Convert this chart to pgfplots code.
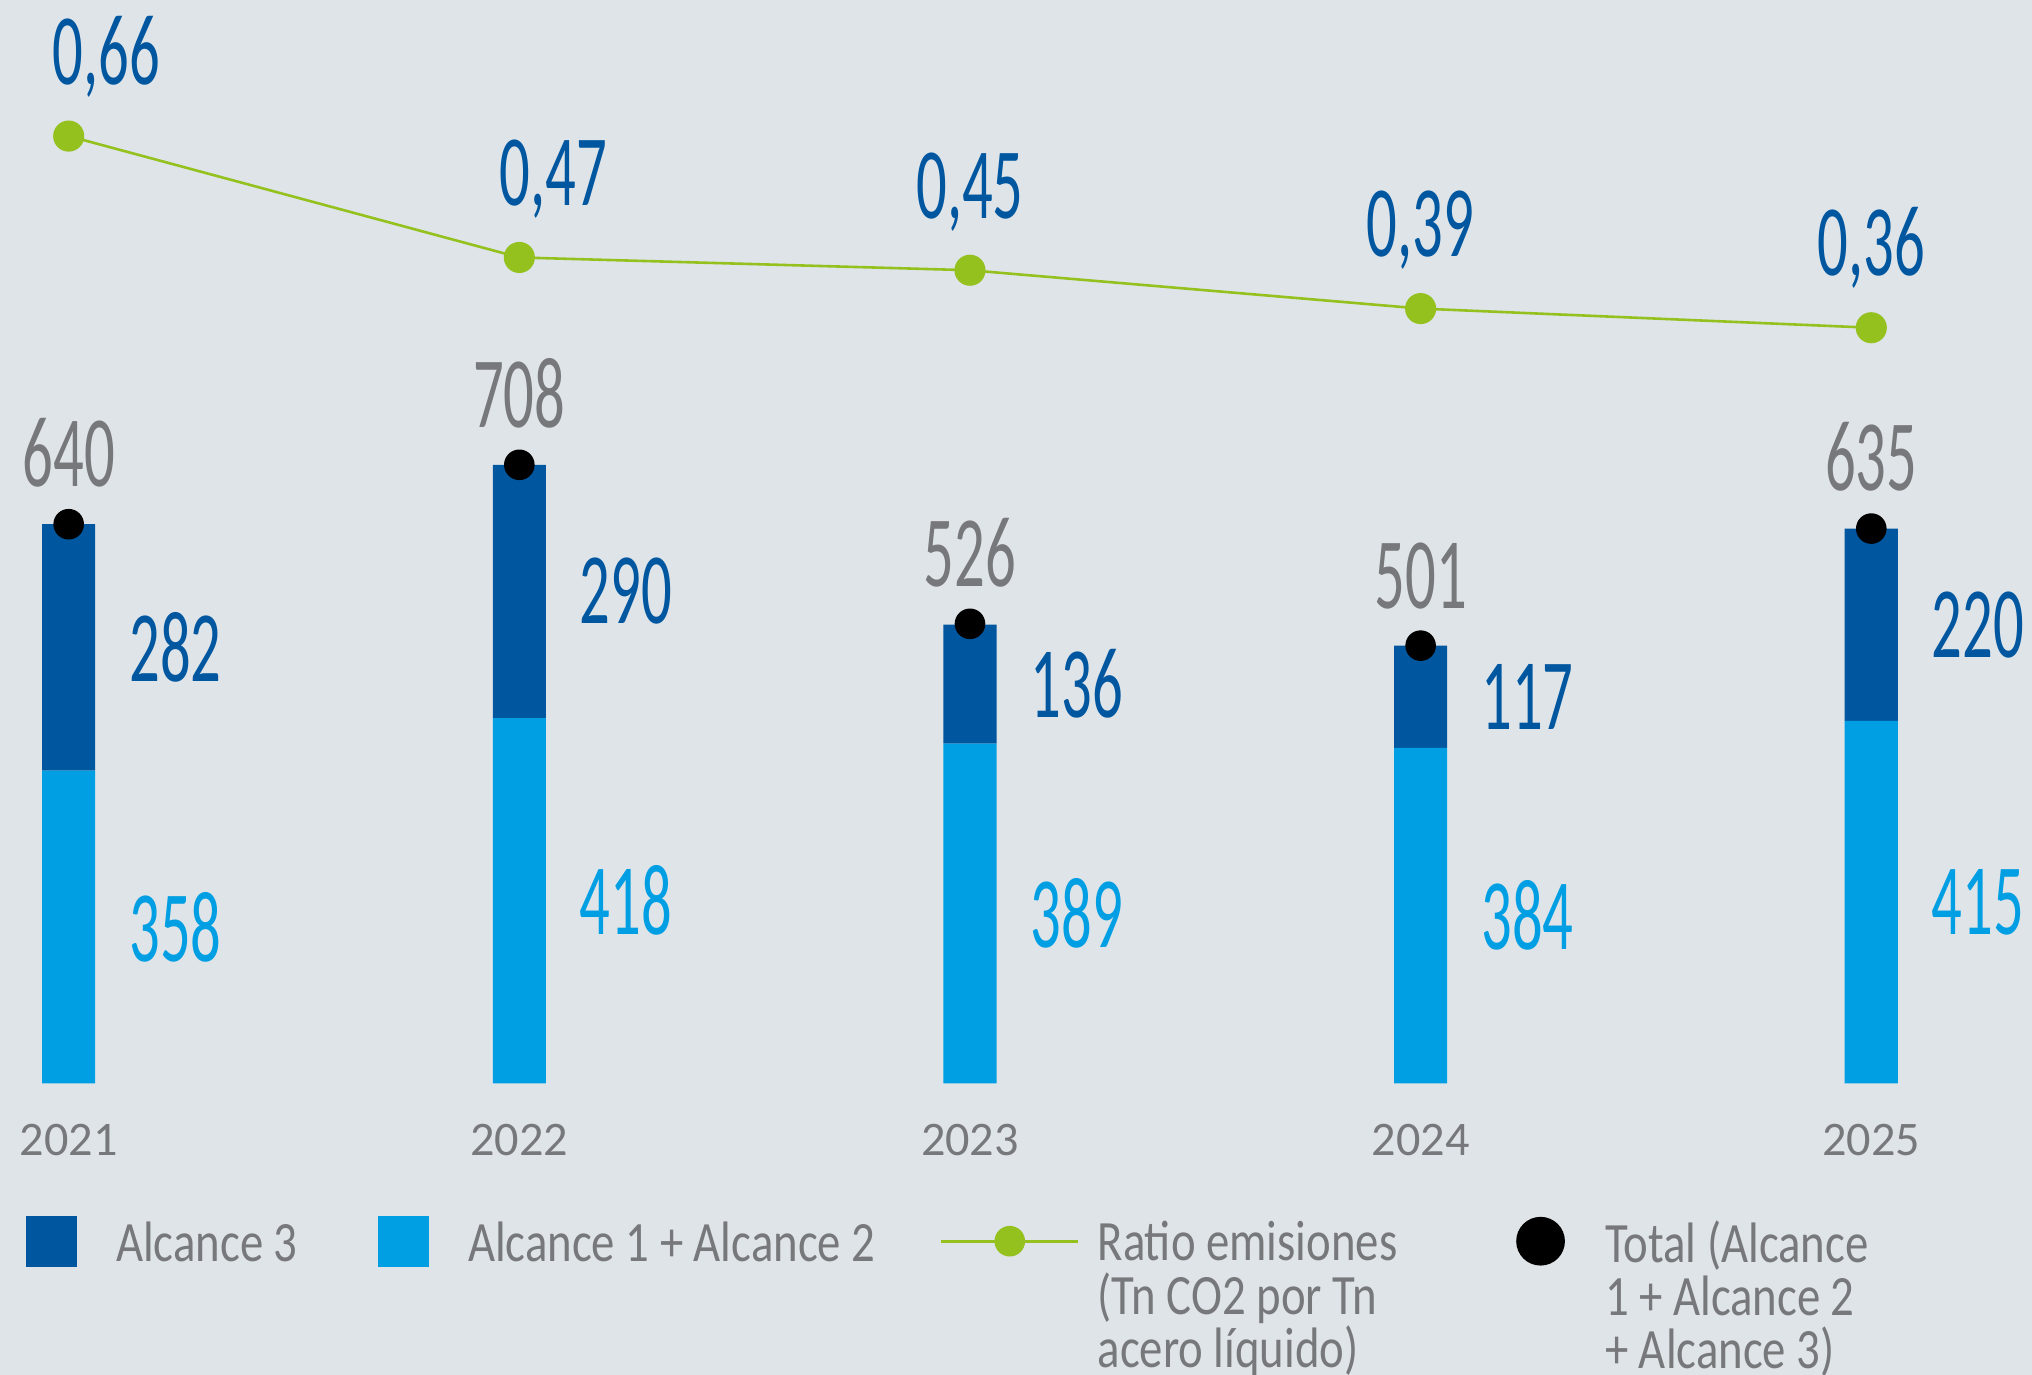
\documentclass[border=0pt]{standalone}
\usepackage{pgfplots}
\pgfplotsset{compat=1.18}
\usepackage{pgfplotstable}
\usepackage{graphicx}
\usepackage{fontspec}
\setmainfont{Carlito}

\definecolor{darkblue}{HTML}{0057A0}
\definecolor{lightblue}{HTML}{009FE3}
\definecolor{ratiogreen}{HTML}{95C11F}
\definecolor{txtgray}{HTML}{77787B}
\definecolor{bgc}{HTML}{DFE4E8}

% condensed look of the big figures
\newcommand\bignum[1]{{\fontsize{19.5}{20}\selectfont\scalebox{0.6}[1]{#1}}}
\newcommand\ls[1]{\scalebox{0.82}[1]{#1}}
\newcommand\legtxt[2]{\raisebox{0pt}[\height][0pt]{\parbox[t]{#1}{\leavevmode\fontsize{11}{10.25}\selectfont\lineskiplimit=-20pt\color{txtgray}#2}}}

\pgfplotstableread{
x a12 a3 tot ratio lx
0 358 282 640 0.66 7.25
1 418 290 708 0.47 6.5
2 389 136 526 0.45 0
3 384 117 501 0.39 0
4 415 220 635 0.36 0
}\data

\pgfplotsset{
  base/.style={width=392pt, height=209pt, scale only axis,
    xmin=-0.1524, xmax=4.3566, clip=false},
  lab/.style={only marks, mark=*, mark size=0pt, mark options={draw=none,fill=none},
    point meta=explicit symbolic, nodes near coords={\bignum{\pgfplotspointmeta}}},
}

\begin{document}
\begin{tikzpicture}
\useasboundingbox (0,-56.25pt) rectangle (392pt,209pt);
\fill[bgc] (0,-56.25pt) rectangle (392pt,209pt);

% stacked bars
\begin{axis}[base, ymin=0, ymax=1240, ybar stacked, bar width=10.25pt,
  axis line style={draw=none}, major tick length=0pt, ytick=\empty,
  xtick={0,...,4}, xticklabels={2021,2022,2023,2024,2025},
  xticklabel style={font=\fontsize{9.3}{10}\selectfont, text=txtgray, anchor=base, yshift=-14pt}]
\addplot[fill=lightblue, draw=none] table[x=x, y=a12]{\data};
\addplot[fill=darkblue, draw=none] table[x=x, y=a3]{\data};
\end{axis}

% segment labels and totals
\begin{axis}[base, ymin=0, ymax=1240, hide axis]
\addplot[lab, nodes near coords style={text=lightblue, anchor=west, inner sep=0pt, xshift=11.5pt}]
  table[x=x, y expr=\thisrow{a12}/2, meta=a12]{\data};
\addplot[lab, nodes near coords style={text=darkblue, anchor=west, inner sep=0pt, xshift=11.5pt}]
  table[x=x, y expr=\thisrow{a12}+\thisrow{a3}/2, meta=a3]{\data};
\addplot[only marks, mark=*, mark size=2.75pt, mark options={fill=black, draw=black},
  point meta=explicit symbolic, nodes near coords={\bignum{\pgfplotspointmeta}},
  nodes near coords style={text=txtgray, anchor=base, yshift=7.25pt, inner sep=0pt}]
  table[x=x, y=tot, meta=tot]{\data};
\end{axis}

% ratio line and legend
\begin{axis}[base, ymin=-0.8228, ymax=0.873, hide axis,
  legend columns=4, legend cell align=left,
  legend style={at={(0.01276,-0.122)}, anchor=north west, draw=none, fill=none,
    inner sep=0pt, outer sep=0pt, column sep=0pt,
    /tikz/every even column/.style={column sep=0pt},
    /tikz/every odd column/.style={column sep=0pt},
    nodes={inner sep=0pt, text depth=0pt}}]
\addlegendimage{legend image code/.code={\fill[darkblue] (0pt,-4.75pt) rectangle (9.5pt,4.75pt); \path (17pt,0pt);}}
\addlegendentry{\legtxt{50.5pt}{\ls{Alcance 3}}}
\addlegendimage{legend image code/.code={\fill[lightblue] (0pt,-4.75pt) rectangle (9.5pt,4.75pt); \path (17pt,0pt);}}
\addlegendentry{\legtxt{91pt}{\ls{Alcance 1 + Alcance 2}}}
\addlegendimage{legend image code/.code={\draw[ratiogreen, line width=0.5pt] (0pt,0pt) -- (26.5pt,0pt); \fill[ratiogreen] (13.25pt,0pt) circle (2.75pt); \path (30pt,0pt);}}
\addlegendentry{\legtxt{80.75pt}{\ls{Ratio emisiones}\\\ls{(Tn CO2 por Tn}\\\ls{acero líquido)}}}
\addlegendimage{legend image code/.code={\fill[black] (4.5pt,0pt) circle (4.5pt); \path (16.75pt,0pt);}}
\addlegendentry{\legtxt{70pt}{\ls{Total (Alcance}\\\ls{1 + Alcance 2}\\\ls{+ Alcance 3)}}}

\addplot[forget plot, ratiogreen, line width=0.5pt, mark=*, mark size=2.75pt,
  mark options={fill=ratiogreen, draw=ratiogreen},
  point meta=y, visualization depends on={\thisrow{lx} \as \lx},
  nodes near coords={\bignum{\pgfmathprintnumber[fixed, fixed zerofill, precision=2, use comma, assume math mode=true]{\pgfplotspointmeta}}},
  nodes near coords style={text=darkblue, anchor=base, yshift=10pt, xshift=\lx pt, inner sep=0pt}]
  table[x=x, y=ratio]{\data};
\end{axis}
\end{tikzpicture}
\end{document}
